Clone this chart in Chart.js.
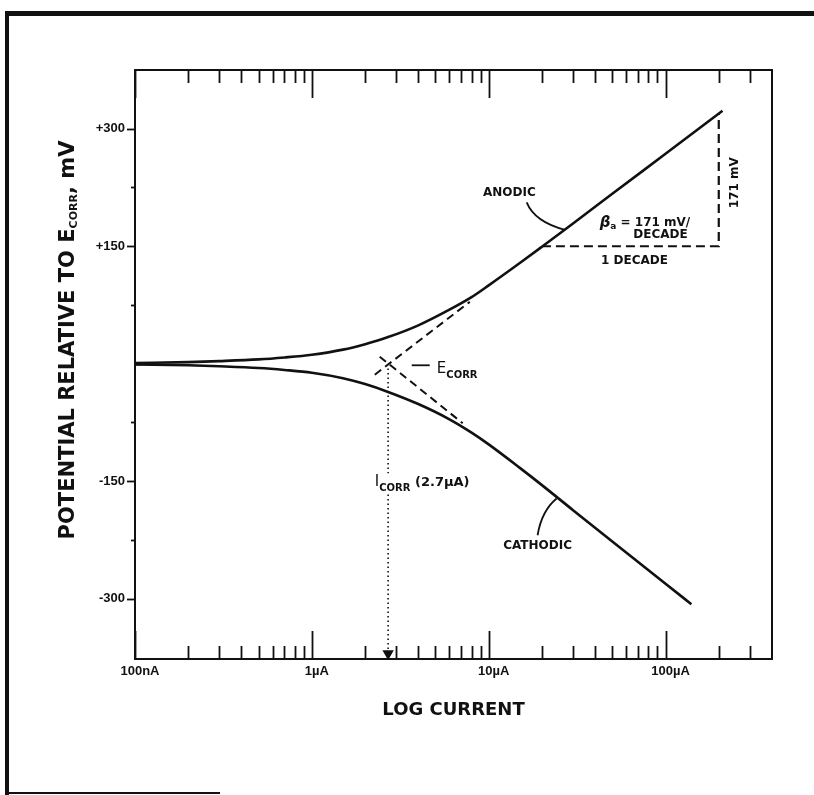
<!DOCTYPE html>
<html>
<head>
<meta charset="utf-8">
<script src="https://cdn.jsdelivr.net/npm/chart.js@4.4.0/dist/chart.umd.min.js"></script>
<style>
  html, body { margin: 0; padding: 0; background: #fff; }
  canvas { display: block; }
</style>
</head>
<body>
<canvas id="tafel" width="814" height="795"></canvas>
<script>
// Polarization curve: current in µA, potential in mV relative to E_corr
const anodicCurrent   = [0.1, 0.2, 0.3, 0.5, 0.7, 1.0, 1.5, 2.0, 2.7, 4.0, 6.0, 8.0, 10, 15, 20, 30, 50, 100, 150, 210];
const anodicPotential = [1, 2, 3.3, 5.5, 8, 11.5, 18, 25, 34, 49, 69, 85, 100, 128.5, 149.3, 179, 217, 268, 298, 323];

const cathodicCurrent   = [0.1, 0.2, 0.3, 0.5, 0.7, 1.0, 1.5, 2.0, 2.7, 4.0, 6.0, 8.0, 10, 15, 20, 30, 50, 100, 140];
const cathodicPotential = [-1, -2, -3.3, -5.5, -8, -11.5, -18.5, -26, -36, -51.5, -71, -88, -103, -133, -155, -187, -227, -281, -307];

// Tafel extrapolations meeting at E_corr / I_corr
const anodicTafelCurrent     = [2.27, 7.82];
const anodicTafelPotential   = [-14, 79];
const cathodicTafelCurrent   = [2.42, 7.13];
const cathodicTafelPotential = [9, -76];

// One-decade construction for the anodic slope (171 mV / decade)
const decadeCurrent   = [20, 200, 200];
const decadePotential = [150, 150, 320];

// I_corr drop line
const icorrCurrent   = [2.7, 2.7];
const icorrPotential = [-6, -370];

// Axes
const xTickValues = [0.1, 1, 10, 100];
const xTickLabels = ['100nA', '1\u00b5A', '10\u00b5A', '100\u00b5A'];
const xMinorTicks = [0.2, 0.3, 0.4, 0.5, 0.6, 0.7, 0.8, 0.9,
                     2, 3, 4, 5, 6, 7, 8, 9,
                     20, 30, 40, 50, 60, 70, 80, 90,
                     200, 300];
const yTickValues = [-300, -150, 150, 300];
const yTickLabels = ['-300', '-150', '+150', '+300'];
const yMinorTicks = [-225, -75, 75, 225];

const INK = '#111';
const SANS = '"Liberation Sans", Arial, sans-serif';
const WIDE = '"DejaVu Sans", Verdana, sans-serif';

const pts = (xs, ys) => xs.map((v, i) => ({ x: v, y: ys[i] }));

// text runs: [{t, font, dy}] drawn one after another along the baseline
function drawRuns(ctx, runs, x, y, align) {
  let total = 0;
  runs.forEach(r => { ctx.font = r.font; r.w = ctx.measureText(r.t).width; total += r.w; });
  let cx = align === 'center' ? x - total / 2 : align === 'right' ? x - total : x;
  ctx.textAlign = 'left';
  runs.forEach(r => { ctx.font = r.font; ctx.fillText(r.t, cx, y + (r.dy || 0)); cx += r.w; });
}

const decorations = {
  id: 'decorations',
  afterDraw(chart) {
    const { ctx, chartArea: a, scales: { x, y } } = chart;
    const X = v => x.getPixelForValue(v);
    const Y = v => y.getPixelForValue(v);
    ctx.save();
    ctx.strokeStyle = INK;
    ctx.fillStyle = INK;

    // remaining edges of the plot box
    ctx.lineWidth = 2;
    ctx.beginPath();
    ctx.moveTo(a.left, a.top);
    ctx.lineTo(a.right, a.top);
    ctx.lineTo(a.right, a.bottom);
    ctx.stroke();

    // inward log ticks, top and bottom
    const xTick = (v, len) => {
      const p = Math.round(X(v)) + 0.5;
      ctx.beginPath();
      ctx.moveTo(p, a.bottom); ctx.lineTo(p, a.bottom - len);
      ctx.moveTo(p, a.top);    ctx.lineTo(p, a.top + len);
      ctx.stroke();
    };
    ctx.lineWidth = 1.8;
    xMinorTicks.forEach(v => xTick(v, 13));
    xTickValues.forEach(v => xTick(v, 28));

    // potential ticks: labelled ones outward, halves shorter, zero inward
    const yTick = (v, from, to) => {
      const p = Math.round(Y(v)) + 0.5;
      ctx.beginPath();
      ctx.moveTo(a.left + from, p); ctx.lineTo(a.left + to, p);
      ctx.stroke();
    };
    yTickValues.forEach(v => yTick(v, 0, -8));
    yMinorTicks.forEach(v => yTick(v, 0, -4));
    yTick(0, 0, 6);

    // axis title with subscript
    ctx.save();
    ctx.translate(74, 340);
    ctx.rotate(-Math.PI / 2);
    ctx.textBaseline = 'alphabetic';
    drawRuns(ctx, [
      { t: 'POTENTIAL RELATIVE TO E', font: 'bold 21px ' + WIDE },
      { t: 'CORR', font: 'bold 11px ' + WIDE, dy: 3 },
      { t: ', mV', font: 'bold 21px ' + WIDE }
    ], 0, 0, 'center');
    ctx.restore();

    // annotations
    const small = 'bold 12px ' + WIDE;
    ctx.textBaseline = 'middle';
    ctx.lineWidth = 1.8;

    drawRuns(ctx, [{ t: 'ANODIC', font: small }], X(13.1), Y(218), 'center');
    ctx.beginPath();
    ctx.moveTo(X(16.4), Y(206));
    ctx.quadraticCurveTo(X(18.2), Y(181), X(27), Y(171));
    ctx.stroke();

    drawRuns(ctx, [
      { t: '\u03b2', font: 'italic bold 15px ' + WIDE },
      { t: 'a', font: 'bold 9px ' + WIDE, dy: 4 },
      { t: ' = 171 mV/', font: small }
    ], X(42.4), Y(180), 'left');
    drawRuns(ctx, [{ t: 'DECADE', font: small }], X(93.7), Y(164), 'center');
    drawRuns(ctx, [{ t: '1 DECADE', font: small }], X(66.8), Y(131), 'center');

    ctx.save();
    ctx.translate(X(248), Y(231));
    ctx.rotate(-Math.PI / 2);
    drawRuns(ctx, [{ t: '171 mV', font: small }], 0, 0, 'center');
    ctx.restore();

    drawRuns(ctx, [{ t: 'CATHODIC', font: small }], X(18.9), Y(-233), 'center');
    ctx.beginPath();
    ctx.moveTo(X(18.9), Y(-219));
    ctx.quadraticCurveTo(X(19.9), Y(-188), X(24.2), Y(-172));
    ctx.stroke();

    // E_corr marker
    ctx.beginPath();
    ctx.moveTo(X(3.67), Y(-2));
    ctx.lineTo(X(4.64), Y(-2));
    ctx.stroke();
    ctx.textBaseline = 'alphabetic';
    drawRuns(ctx, [
      { t: 'E', font: '15px ' + WIDE },
      { t: 'CORR', font: 'bold 10px ' + WIDE, dy: 5 }
    ], X(5.09), Y(-4) + 6, 'left');

    // I_corr label, knocked out of the drop line
    const iRuns = [
      { t: 'I', font: '15px ' + WIDE },
      { t: 'CORR', font: 'bold 10px ' + WIDE, dy: 5 },
      { t: ' (2.7\u00b5A)', font: 'bold 13px ' + WIDE }
    ];
    let tw = 0;
    iRuns.forEach(r => { ctx.font = r.font; tw += ctx.measureText(r.t).width; });
    const ix = X(2.27), iy = Y(-149) + 6;
    ctx.fillStyle = '#fff';
    ctx.fillRect(ix - 1, iy - 13, tw + 2, 20);
    ctx.fillStyle = INK;
    drawRuns(ctx, iRuns, ix, iy, 'left');

    // page frame
    ctx.fillRect(5, 11, 809, 5);
    ctx.fillRect(5, 11, 4, 784);
    ctx.fillRect(5, 792, 215, 2);
    ctx.restore();
  }
};

const lineBase = { showLine: true, pointRadius: 0, borderColor: INK, backgroundColor: INK, fill: false };

new Chart(document.getElementById('tafel'), {
  type: 'scatter',
  data: {
    datasets: [
      { ...lineBase, label: 'Anodic', data: pts(anodicCurrent, anodicPotential),
        borderWidth: 2.6, cubicInterpolationMode: 'monotone' },
      { ...lineBase, label: 'Cathodic', data: pts(cathodicCurrent, cathodicPotential),
        borderWidth: 2.6, cubicInterpolationMode: 'monotone' },
      { ...lineBase, label: 'Anodic Tafel', data: pts(anodicTafelCurrent, anodicTafelPotential),
        borderWidth: 2, borderDash: [8, 5] },
      { ...lineBase, label: 'Cathodic Tafel', data: pts(cathodicTafelCurrent, cathodicTafelPotential),
        borderWidth: 2, borderDash: [8, 5] },
      { ...lineBase, label: 'Decade', data: pts(decadeCurrent, decadePotential),
        borderWidth: 2.2, borderDash: [9, 5] },
      { ...lineBase, label: 'Icorr', data: pts(icorrCurrent, icorrPotential),
        borderWidth: 1.6, borderDash: [1.5, 3],
        pointRadius: [0, 5], pointStyle: 'triangle', rotation: 180,
        pointBackgroundColor: INK, pointBorderColor: INK }
    ]
  },
  options: {
    responsive: false,
    animation: false,
    events: [],
    layout: { padding: { top: 70, right: 42, left: 0, bottom: 0 } },
    plugins: { legend: { display: false }, tooltip: { enabled: false } },
    scales: {
      x: {
        type: 'logarithmic',
        position: 'bottom',
        min: 0.1,
        max: 400,
        afterBuildTicks: s => { s.ticks = xTickValues.map(v => ({ value: v })); },
        afterFit: s => { s.height = 136; },
        grid: { display: true, drawOnChartArea: false, drawTicks: false },
        border: { display: true, color: INK, width: 2 },
        ticks: {
          autoSkip: false, maxRotation: 0, padding: 5, labelOffset: 5, color: INK,
          font: { family: SANS, size: 13, weight: 'bold' },
          callback: v => xTickLabels[xTickValues.indexOf(v)] ?? ''
        },
        title: {
          display: true, text: 'LOG CURRENT', color: INK,
          font: { family: WIDE, size: 18, weight: 'bold' },
          padding: { top: 0, bottom: 74 }
        }
      },
      y: {
        type: 'linear',
        position: 'left',
        min: -377,
        max: 375,
        afterBuildTicks: s => { s.ticks = yTickValues.map(v => ({ value: v })); },
        afterFit: s => { s.width = 135; },
        grid: { display: true, drawOnChartArea: false, drawTicks: false },
        border: { display: true, color: INK, width: 2 },
        ticks: {
          padding: 10, color: INK,
          font: { family: SANS, size: 13, weight: 'bold' },
          callback: v => yTickLabels[yTickValues.indexOf(v)] ?? ''
        }
      }
    }
  },
  plugins: [decorations]
});
</script>
</body>
</html>
